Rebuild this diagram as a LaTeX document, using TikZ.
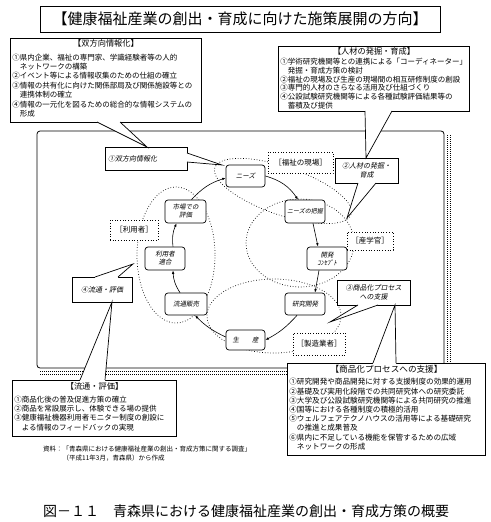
\documentclass[tikz,border=0pt]{standalone}
\usepackage{fontspec}
\setmainfont{Noto Sans CJK JP}
\newfontfamily\itjp[FakeSlant=0.2]{Noto Sans CJK JP}
\usetikzlibrary{arrows.meta,calc}
\begin{document}
\begin{tikzpicture}[x=1pt,y=-1pt,
  bx/.style={draw, line width=0.7pt, fill=white, inner xsep=2pt, inner ysep=1pt, align=left,
    anchor=north west, execute at begin node={\parindent=0pt}, font=\fontsize{7.5}{9.4}\selectfont},
  bxtitle/.style={inner sep=0pt, font=\fontsize{8.2}{10}\selectfont},
  cyc/.style={draw, line width=0.7pt, rounded corners=3pt, fill=white, inner sep=0.5pt, align=center,
    minimum width=40pt, minimum height=22pt, font=\itjp\fontsize{6.5}{8}\selectfont},
  lab/.style={draw, dotted, line width=0.7pt, fill=white, inner sep=0pt, font=\fontsize{7.5}{9}\selectfont},
  cal/.style={draw, line width=0.7pt, fill=white, inner sep=1pt, align=center, minimum height=24pt,
    font=\itjp\fontsize{7}{8.6}\selectfont},
  arr/.style={line width=0.6pt, -{Latex[length=3.5pt,width=2.6pt]}},
  elli/.style={dotted, line width=0.7pt},
  ptr/.style={line width=0.7pt},
  shadowline/.style={line width=0.9pt, dash pattern=on 0.9pt off 1.1pt}
]
\useasboundingbox (0,0) rectangle (490,522);
\fill[white] (0,0) rectangle (490,522);

% title
\node[draw, line width=0.8pt, minimum width=400pt, minimum height=26pt, inner sep=0pt,
  font=\fontsize{15}{18}\selectfont] (title) at (240,19) {【健康福祉産業の創出・育成に向けた施策展開の方向】};

% main frame with dotted shadow
\draw[shadowline] (447.5,135) -- (447.5,374);
\draw[shadowline] (450,135) -- (450,374);
\draw[shadowline] (40,371.5) -- (450,371.5);
\draw[shadowline] (40,374) -- (450,374);
\draw[line width=0.8pt, rounded corners=3pt, fill=white] (37,131) rectangle (444,368);

% dotted ellipses
\draw[elli, rotate around={-19:(283,191)}] (283,191) ellipse [x radius=72, y radius=24];
\draw[elli] (300,243) ellipse [x radius=54, y radius=44];
\draw[elli] (274,316) ellipse [x radius=67, y radius=37];
\draw[elli] (176,255) ellipse [x radius=39, y radius=68];

% group labels
\node[lab, minimum width=65pt, minimum height=21pt] (l1) at (300.5,162.5) {［福祉の現場］};
\node[lab, minimum width=46pt, minimum height=18pt] (l2) at (370,241) {［産学官］};
\node[lab, minimum width=52pt, minimum height=22pt] (l3) at (319,344) {［製造業者］};
\node[lab, minimum width=48pt, minimum height=20pt] (l4) at (134,230) {［利用者］};

% cycle nodes
\node[cyc, minimum width=39pt] (needs) at (245.5,176) {ニーズ};
\node[cyc, font=\itjp\fontsize{6}{8}\selectfont, minimum height=23pt] (grasp) at (305,211.5) {ニーズの把握};
\node[cyc, minimum height=23pt] (kaihatsu) at (327,258.5) {開発\\ｺﾝｾﾌﾟﾄ};
\node[cyc] (kenkyu) at (305,304) {研究開発};
\node[cyc, minimum width=39pt, minimum height=20pt] (seisan) at (245.5,340) {生　　産};
\node[cyc, minimum width=42pt] (ryutsu) at (186,304) {流通販売};
\node[cyc, minimum height=23pt] (riyou) at (165,258.5) {利用者\\適合};
\node[cyc, minimum width=41pt, minimum height=23pt] (ichiba) at (185.5,211.5) {市場での\\評価};

% cycle arrows
\draw[arr] (needs.east) to[bend left=20] ($(grasp.north)+(-7,0)$);
\draw[arr] ($(grasp.south)+(8,0)$) -- ($(kaihatsu.north)+(-9,0)$);
\draw[arr] ($(kaihatsu.south)+(-8,0)$) -- ($(kenkyu.north)+(10,0)$);
\draw[arr] ($(kenkyu.south)+(-8,0)$) to[bend left=10] (seisan.east);
\draw[arr] ($(seisan.west)+(0,-3)$) to[bend left=10] ($(ryutsu.south)+(9,0)$);
\draw[arr] ($(ryutsu.north)+(-6,0)$) to[bend left=15] ($(riyou.south)+(8,0)$);
\draw[arr] ($(riyou.north)+(8,0)$) to[bend left=15] ($(ichiba.south)+(-9,0)$);
\draw[arr] ($(ichiba.north)+(6,0)$) to[bend left=15] ($(needs.west)+(0,2)$);

% small callout labels
\node[cal, minimum width=82pt, minimum height=23pt, align=left, text width=76pt] (c1) at (146,158.5) {①双方向情報化};
\node[cal, minimum width=63pt, minimum height=25pt] (c2) at (366.5,170.5) {②人材の発掘・\\育成};
\node[cal, minimum width=73pt, minimum height=25pt] (c3) at (373.5,292.5) {③商品化プロセス\\への支援};
\node[cal, minimum width=60pt, minimum height=25pt] (c4) at (102,289.5) {④流通・評価};

% big boxes
\node[bx, text width=187pt, minimum height=84pt] (b1) at (10,38) {%
\rule{0pt}{7pt}\\
①県内企業、福祉の専門家、学識経験者等の人的\\
　ネットワークの構築\\
②イベント等による情報収集のための仕組の確立\\
③情報の共有化に向けた関係部局及び関係施設等との\\
　連携体制の確立\\
④情報の一元化を図るための総合的な情報システムの\\
　形成};
\node[bxtitle] (b1t) at (106,43.5) {【双方向情報化】};

\node[bx, text width=187pt, minimum height=65pt, font=\fontsize{7.5}{8.9}\selectfont] (b2) at (278,46) {%
\rule{0pt}{7pt}\\
①学術研究機関等との連携による「コーディネーター」\\
　発掘・育成方策の検討\\
②福祉の現場及び生産の現場間の相互研修制度の創設\\
③専門的人材のさらなる活用及び仕組づくり\\
④公設試験研究機関等による各種試験評価結果等の\\
　蓄積及び提供};
\node[bxtitle] (b2t) at (374,51) {【人材の発掘・育成】};

\node[bx, text width=160pt, minimum height=56pt] (b3) at (12,380) {%
\rule{0pt}{7pt}\\
①商品化後の普及促進方策の確立\\
②商品を常設展示し、体験できる場の提供\\
③健康福祉機器利用者モニター制度の創設に\\
　よる情報のフィードバックの実現};
\node[bxtitle] (b3t) at (94.5,386) {【流通・評価】};

\node[bx, text width=194pt, minimum height=92pt, font=\fontsize{7.6}{9.2}\selectfont] (b4) at (287,363) {%
\rule{0pt}{7pt}\\
①研究開発や商品開発に対する支援制度の効果的運用\\
②基礎及び実用化段階での共同研究体への研究委託\\
③大学及び公設試験研究機関等による共同研究の推進\\
④国等における各種制度の積極的活用\\
⑤ウェルフェアテクノハウスの活用等による基礎研究\\
　の推進と成果普及\\
⑥県内に不足している機能を保管するための広域\\
　ネットワークの形成};
\node[bxtitle, font=\fontsize{8.6}{10}\selectfont] (b4t) at (386.5,369) {【商品化プロセスへの支援】};

% callout pointers
\coordinate (p1a) at (97,122); \coordinate (p1b) at (120,122); \coordinate (p1t) at (147,147);
\fill[white] (p1a) -- (p1t) -- (p1b) -- ++(0,-2) -| (p1a);
\draw[ptr] (p1a) -- (p1t) -- (p1b);

\coordinate (p2a) at (187,153); \coordinate (p2b) at (187,162); \coordinate (p2t) at (222,165);
\fill[white] (p2a) -- (p2t) -- (p2b) -- ++(-2,0) |- (p2a);
\draw[ptr] (p2a) -- (p2t) -- (p2b);

\coordinate (p3a) at (365,111); \coordinate (p3b) at (392,111); \coordinate (p3t) at (366,158);
\fill[white] (p3a) -- (p3t) -- (p3b) -- ++(0,-2) -| (p3a);
\draw[ptr] (p3a) -- (p3t) -- (p3b);

\coordinate (p4a) at (358,183); \coordinate (p4b) at (376,183); \coordinate (p4t) at (347,218);
\fill[white] (p4a) -- (p4t) -- (p4b) -- ++(0,-2) -| (p4a);
\draw[ptr] (p4a) -- (p4t) -- (p4b);

\coordinate (p5a) at (358,305); \coordinate (p5b) at (378,305); \coordinate (p5t) at (330,322);
\fill[white] (p5a) -- (p5t) -- (p5b) -- ++(0,-2) -| (p5a);
\draw[ptr] (p5a) -- (p5t) -- (p5b);

\coordinate (p6a) at (373,363); \coordinate (p6b) at (396,363); \coordinate (p6t) at (395,305);
\fill[white] (p6a) -- (p6t) -- (p6b) -- ++(0,2) -| (p6a);
\draw[ptr] (p6a) -- (p6t) -- (p6b);

\coordinate (p7a) at (95,277); \coordinate (p7b) at (118,277); \coordinate (p7t) at (133,264);
\fill[white] (p7a) -- (p7t) -- (p7b) -- ++(0,2) -| (p7a);
\draw[ptr] (p7a) -- (p7t) -- (p7b);

\coordinate (p8a) at (80,380); \coordinate (p8b) at (105,380); \coordinate (p8t) at (112,302);
\fill[white] (p8a) -- (p8t) -- (p8b) -- ++(0,2) -| (p8a);
\draw[ptr] (p8a) -- (p8t) -- (p8b);

% source note and caption
\node[anchor=north west, inner sep=0pt, align=left, font=\fontsize{6.5}{9}\selectfont] (src) at (43,446)
  {資料：「青森県における健康福祉産業の創出・育成方策に関する調査」\\　　　（平成11年3月，青森県）から作成};
\node[font=\fontsize{14}{16}\selectfont, inner sep=0pt] (cap) at (246,511) {図－１１　青森県における健康福祉産業の創出・育成方策の概要};
\end{tikzpicture}
\end{document}
